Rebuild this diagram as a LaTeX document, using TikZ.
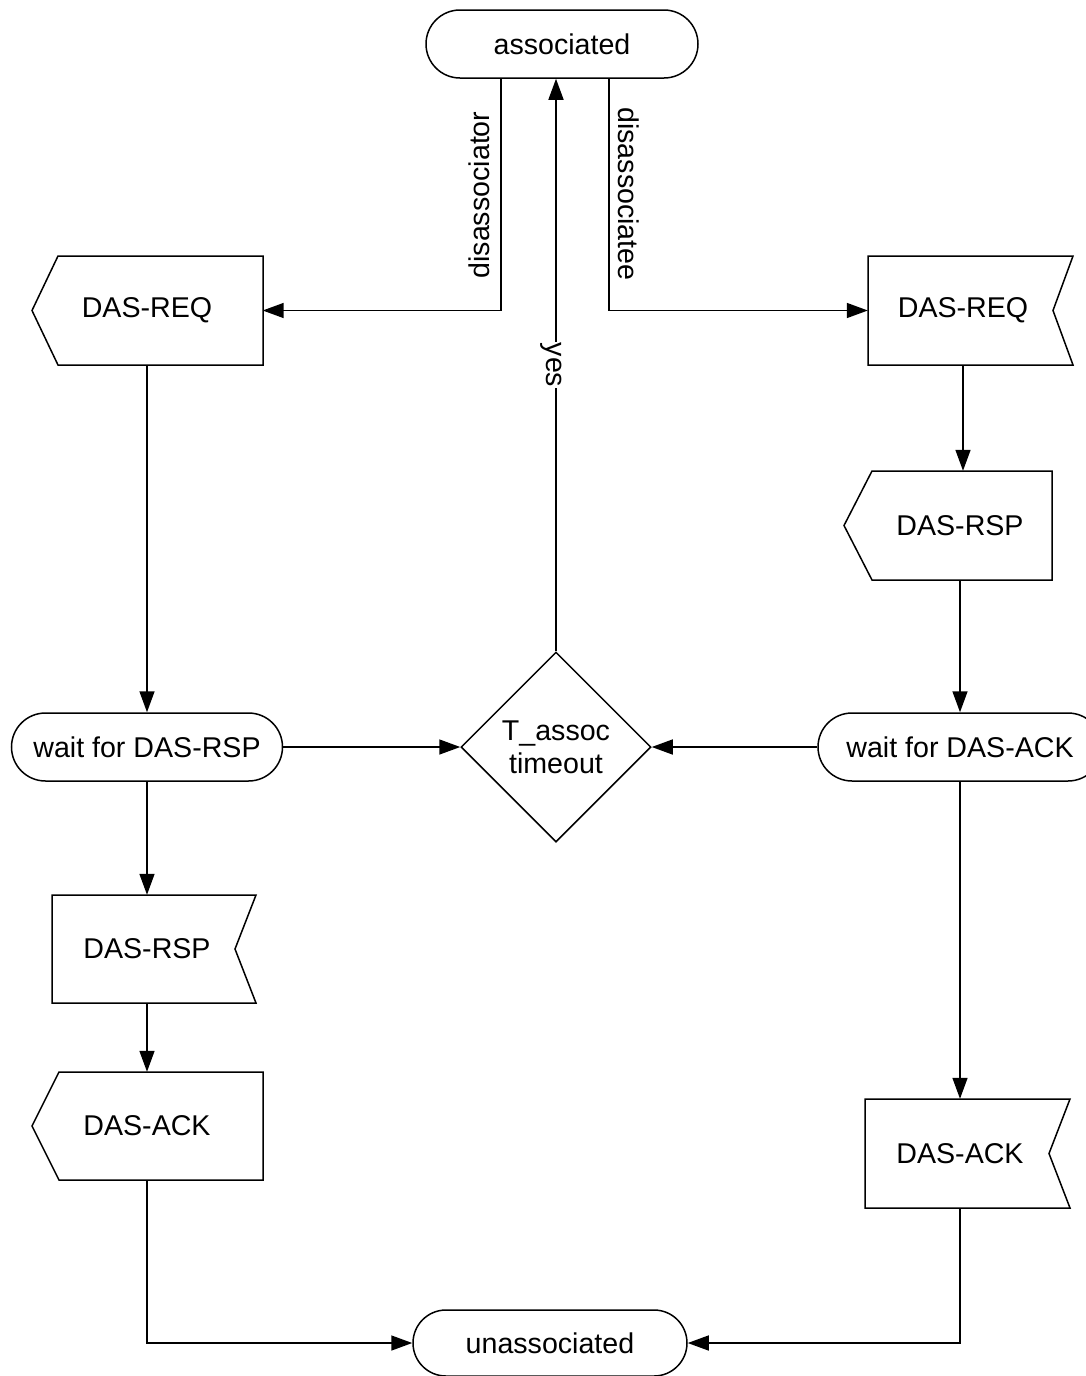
\documentclass[tikz,border=0pt]{standalone}
\usepackage{fontspec}
\setmainfont{Liberation Sans}
\usetikzlibrary{arrows.meta,shapes.misc,shapes.geometric,calc}
\begin{document}
\begin{tikzpicture}[x=1pt,y=-1pt,
  every node/.style={font=\fontsize{28.6}{33}\selectfont, inner sep=0pt},
  ln/.style={line width=1.5pt, line join=miter},
  arr/.style={ln, -{Triangle[length=21pt,width=15pt]}},
  state/.style={rounded rectangle, draw, line width=1.5pt, minimum height=68},
  sig/.style={minimum height=109}
]
\useasboundingbox (0,0) rectangle (1086,1376);

% states
\node[state, minimum width=272] (assoc) at (562,44) {associated};
\node[state, minimum width=271] (waitL) at (147,747) {wait for DAS-RSP};
\node[state, minimum width=284] (waitR) at (960,747) {wait for DAS-ACK};
\node[state, minimum width=274, minimum height=66] (unassoc) at (550,1343) {unassociated};

% decision
\node[diamond, draw, line width=1.5pt, minimum width=190, minimum height=190, aspect=1, align=center] (dia) at (556,747) {T\_assoc\\timeout};

% signals (text nodes, outlines drawn below)
\node[sig, minimum width=230] (reqL) at (147,310.5) {DAS-REQ};
\draw[ln] (58,256) -- (263,256) -- (263,365) -- (58,365) -- (32,310.5) -- cycle;

\node[sig, minimum width=190] (reqR) at (963,310.5) {DAS-REQ};
\draw[ln] (868,256) -- (1073,256) -- (1053,310.5) -- (1073,365) -- (868,365) -- cycle;

\node[sig] (rspR) at (960,525.5) {DAS-RSP};
\draw[ln] (872,471) -- (1052,471) -- (1052,580) -- (872,580) -- (844,525.5) -- cycle;

\node[sig, minimum height=108] (rspL) at (147,949) {DAS-RSP};
\draw[ln] (52,895) -- (256,895) -- (235,949) -- (256,1003) -- (52,1003) -- cycle;

\node[sig, minimum height=108] (ackL) at (147,1126) {DAS-ACK};
\draw[ln] (59,1072) -- (263,1072) -- (263,1180) -- (59,1180) -- (32,1126) -- cycle;

\node[sig] (ackR) at (960,1153.5) {DAS-ACK};
\draw[ln] (865,1099) -- (1070,1099) -- (1049,1153.5) -- (1070,1208) -- (865,1208) -- cycle;

% connectors
\draw[arr] ($(assoc.south)+(-61,0)$) |- ($(reqL.east)+(0.5,0)$);
\draw[arr] ($(assoc.south)+(47,0)$) |- (reqR.west);
\draw[arr] (dia.north) -- (dia.north |- assoc.south);
\draw[arr] (reqL.south) -- (waitL.north);
\draw[arr] (reqR.south) -- (reqR.south |- rspR.north);
\draw[arr] (rspR.south) -- (waitR.north);
\draw[arr] (waitL.east) -- (dia.west);
\draw[arr] (waitR.west) -- (dia.east);
\draw[arr] (waitL.south) -- (rspL.north);
\draw[arr] (rspL.south) -- (ackL.north);
\draw[arr] (ackL.south) |- (unassoc.west);
\draw[arr] (waitR.south) -- (ackR.north);
\draw[arr] (ackR.south) |- (unassoc.east);

% labels
\node[rotate=90] (lab1) at (479,195) {disassociator};
\node[rotate=-90] (lab2) at (629,194) {disassociatee};
\node[rotate=-90, fill=white, inner xsep=1pt] (lab3) at (551,365) {yes};
\end{tikzpicture}
\end{document}
